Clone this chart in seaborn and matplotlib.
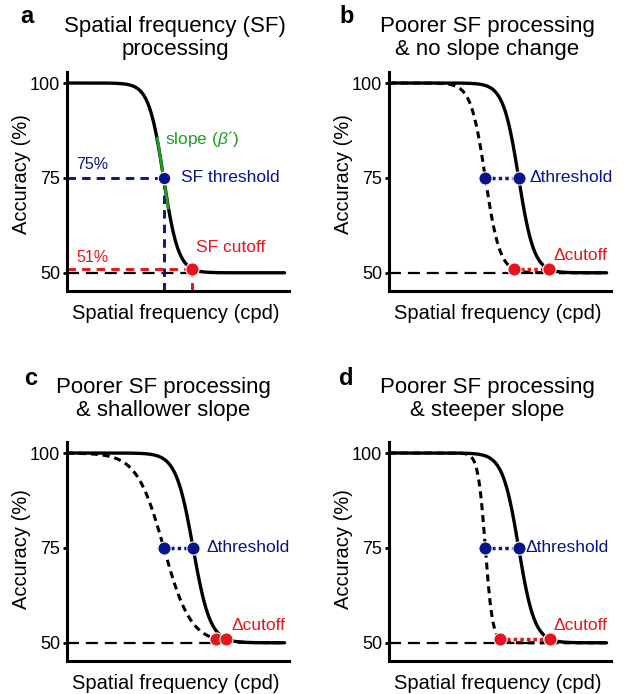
import numpy as np
import pandas as pd
import seaborn as sns
import matplotlib.pyplot as plt

# panel text
panel_letters = ["a", "b", "c", "d"]
panel_titles = [
    "Spatial frequency (SF)\nprocessing",
    "Poorer SF processing\n& no slope change",
    "Poorer SF processing\n& shallower slope",
    "Poorer SF processing\n& steeper slope",
]

# where each curve crosses 75% (threshold) and 51% (cutoff), SF axis in arbitrary units 0-10
solid_threshold = [4.35, 5.84, 5.68, 5.84]
solid_cutoff = [5.65, 7.19, 7.18, 7.24]
dashed_threshold = [None, 4.34, 4.36, 4.34]
dashed_cutoff = [None, 5.61, 6.73, 4.98]

threshold_level = 75
cutoff_level = 51
chance_level = 50
yticks = [50, 75, 100]
slope_ends = [85.5, 67.0]  # y-range of the green slope segment in panel a

BLUE = "#0a1489"
RED = "#e8141c"
GREEN = "#1f9e1f"


def psychometric(x, thr, cut):
    # descending logistic from 100% to 50%, passing 75% at thr and 51% at cut
    k = np.log(49) / (cut - thr)
    return chance_level + 50 / (1 + np.exp(k * (x - thr)))


sns.set_theme(style="white")
plt.rcParams["font.family"] = ["Liberation Sans", "DejaVu Sans"]
plt.rcParams["mathtext.fontset"] = "custom"
plt.rcParams["mathtext.it"] = "Liberation Sans:italic"
plt.rcParams["mathtext.rm"] = "Liberation Sans"

W, H = 624, 694
fig = plt.figure(figsize=(W / 100, H / 100), dpi=100)

# axes boxes in pixels: left, top of axes
boxes = [(67, 72), (389, 72), (67, 442), (389, 442)]
ax_w, ax_h = 222, 219
title_pos = [(175, 38), (487, 38), (163, 399), (487, 399)]
letter_pos = [(20, 23), (339, 23), (24, 385), (339, 385)]
dthr_x = [None, 6.33, 6.30, 6.15]

xs = np.linspace(0, 9.8, 400)

for i in range(4):
    left, top = boxes[i]
    ax = fig.add_axes([left / W, 1 - (top + ax_h) / H, ax_w / W, ax_h / H])
    ax.set_xlim(0, 10)
    ax.set_ylim(45.2, 102.9)

    thr, cut = solid_threshold[i], solid_cutoff[i]

    # chance line
    sns.lineplot(x=[0, cut], y=[chance_level, chance_level], ax=ax, color="black",
                 lw=1.6, linestyle=(0, (5.4, 3.1)), zorder=1)

    if dashed_threshold[i] is not None:
        dthr, dcut = dashed_threshold[i], dashed_cutoff[i]
        sns.lineplot(x=xs, y=psychometric(xs, dthr, dcut), ax=ax, color="black",
                     lw=2.2, linestyle=(0, (2.3, 1.6)), zorder=2)

    sns.lineplot(x=xs, y=psychometric(xs, thr, cut), ax=ax, color="black",
                 lw=2.4, zorder=3)

    if i == 0:
        # guide lines to threshold and cutoff
        ax.plot([0, thr], [threshold_level] * 2, color=BLUE, lw=2.1, dashes=(2.9, 2.1), zorder=2)
        ax.plot([thr, thr], [45.2, threshold_level], color=BLUE, lw=2.1, dashes=(2.9, 2.1), zorder=2)
        ax.plot([0, cut], [cutoff_level] * 2, color=RED, lw=2.1, dashes=(2.9, 2.1), zorder=2)
        ax.plot([cut, cut], [45.2, cutoff_level], color=RED, lw=2.1, dashes=(2.9, 2.1), zorder=2)
        # tangent slope segment
        k = np.log(49) / (cut - thr)
        slope = -k * 50 / 4
        y_seg = np.array(slope_ends)
        x_seg = thr + (y_seg - threshold_level) / slope
        ax.plot(x_seg, y_seg, color=GREEN, lw=2.0, zorder=4)
        ax.plot(thr, threshold_level, "o", color=BLUE, ms=9, mec="white", mew=0.8, zorder=5)
        ax.plot(cut, cutoff_level, "o", color=RED, ms=9.5, mec="white", mew=0.8, zorder=5)
        ax.text(4.4, 85.3, r"slope ($\beta$´)", color=GREEN, fontsize=12.5, va="center")
        ax.text(thr + 0.8, threshold_level, "SF threshold", color=BLUE, fontsize=12.5, va="center")
        ax.text(cut + 0.18, 56.6, "SF cutoff", color=RED, fontsize=12.5, va="center")
        ax.text(0.4, 78.4, "75%", color=BLUE, fontsize=11.5, va="center")
        ax.text(0.4, 54.0, "51%", color=RED, fontsize=11.5, va="center")
    else:
        dthr, dcut = dashed_threshold[i], dashed_cutoff[i]
        ax.plot([dthr, thr], [threshold_level] * 2, color=BLUE, lw=2.5, dashes=(1.0, 0.9), zorder=4)
        ax.plot([dcut, cut], [cutoff_level] * 2, color=RED, lw=2.5, dashes=(1.0, 0.9), zorder=4)
        ax.plot([dthr, thr], [threshold_level] * 2, "o", color=BLUE, ms=9.5, mec="white", mew=0.8, zorder=5)
        ax.plot([dcut, cut], [cutoff_level] * 2, "o", color=RED, ms=9.5, mec="white", mew=0.8, zorder=5)
        ax.text(dthr_x[i], threshold_level, "Δthreshold", color=BLUE, fontsize=12.5, va="center")
        ax.text(7.42, 54.5, "Δcutoff", color=RED, fontsize=12.5, va="center")

    ax.set_yticks(yticks)
    ax.set_yticklabels([str(v) for v in yticks])
    ax.set_xticks([])
    ax.tick_params(axis="y", length=3, width=2, pad=2, labelsize=13, color="black",
                   labelcolor="black", left=True)
    for side in ["top", "right"]:
        ax.spines[side].set_visible(False)
    for side in ["left", "bottom"]:
        ax.spines[side].set_linewidth(2.2)
        ax.spines[side].set_color("black")

    ax.set_ylabel("Accuracy (%)", fontsize=14.5, color="black")
    ax.set_xlabel("Spatial frequency (cpd)", fontsize=14.5, color="black")
    ax.yaxis.set_label_coords(-0.163, 0.535 if i < 2 else 0.51)
    ax.xaxis.set_label_coords(0.49, -0.06)

    tx, ty = title_pos[i]
    fig.text(tx / W, 1 - ty / H, panel_titles[i], ha="center", va="center",
             fontsize=16, linespacing=1.1, color="black")
    lx, ly = letter_pos[i]
    fig.text(lx / W, 1 - ly / H, panel_letters[i], ha="left", va="baseline",
             fontsize=17, fontweight="bold", color="black")

fig.savefig("out.png", dpi=100)
